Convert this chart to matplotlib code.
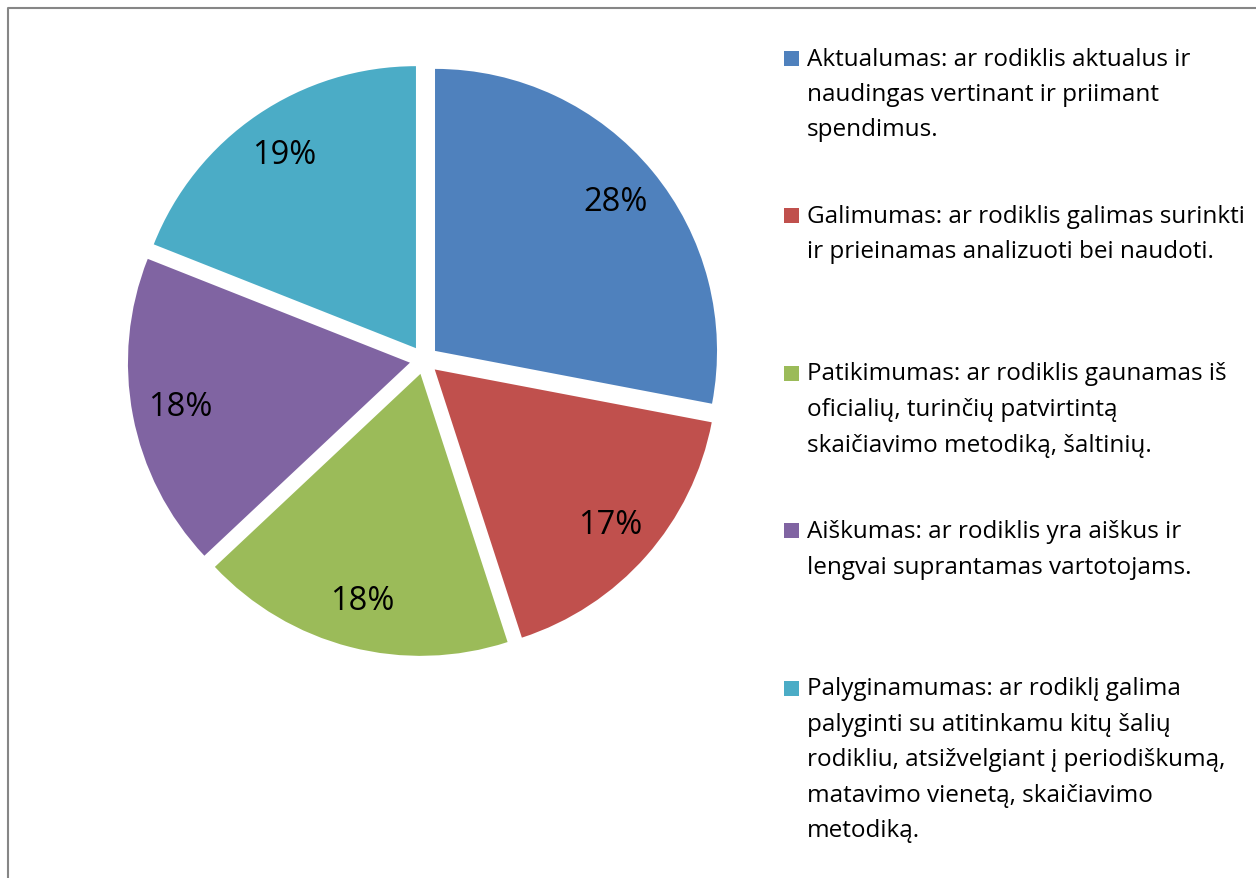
import matplotlib
matplotlib.use('Agg')
from matplotlib import pyplot as plt

# Slice data (percent shares), clockwise from 12 o'clock
shares = [28, 17, 18, 18, 19]
colors = ['#4F81BD', '#C0504D', '#9BBB59', '#8064A2', '#4BACC6']
legendLabels = [
    'Aktualumas: ar rodiklis aktualus ir\nnaudingas vertinant ir priimant\nspendimus.',
    'Galimumas: ar rodiklis galimas surinkti\nir prieinamas analizuoti bei naudoti.',
    'Patikimumas: ar rodiklis gaunamas iš\noficialių, turinčių patvirtintą\nskaičiavimo metodiką, šaltinių.',
    'Aiškumas: ar rodiklis yra aiškus ir\nlengvai suprantamas vartotojams.',
    'Palyginamumas: ar rodiklį galima\npalyginti su atitinkamu kitų šalių\nrodikliu, atsižvelgiant į periodiškumą,\nmatavimo vienetą, skaičiavimo\nmetodiką.',
]

plt.rcParams['font.family'] = ['Open Sans', 'DejaVu Sans']

W, H = 1256, 879
fig = plt.figure(figsize=(W/100, H/100), dpi=100)
ax = fig.add_axes([0, 0, 1, 1])

# pie in pixel units (y up); explode is in data units here
ax.pie(shares, colors=colors, explode=[14.3]*len(shares), startangle=90,
       counterclock=False, center=(424, H-361), radius=282,
       autopct='%1.0f%%', pctdistance=0.83,
       textprops={'fontsize': 23.5, 'color': 'black'})

ax.set_xlim(0, W)
ax.set_ylim(0, H)
ax.set_aspect('equal')
ax.axis('off')

# chart frame (left and top edges visible)
ax.plot([7.5, 7.5, W+10], [-10, H-9, H-9], color='#868686', lw=1.5, clip_on=False)

# legend drawn by hand, evenly spaced entries
for i, (lab, col) in enumerate(zip(legendLabels, colors)):
    yc = H - (58.5 + i*157.5)
    ax.plot([791], [yc], marker='s', markersize=10.8, color=col, markeredgewidth=0)
    for k, line in enumerate(lab.split('\n')):
        ax.text(807, yc - 7 - k*35.5, line, fontsize=17.5, va='baseline', ha='left', color='black')

fig.savefig('out.png', dpi=100)
